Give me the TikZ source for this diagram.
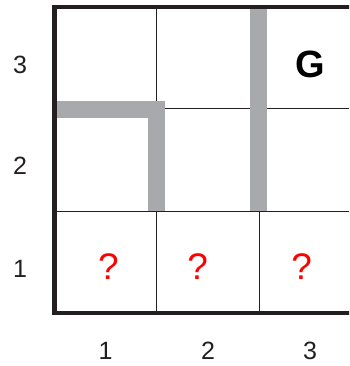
\documentclass[tikz,border=0pt]{standalone}
\usepackage{fontspec}
\setmainfont{Liberation Sans}
\definecolor{wallgray}{HTML}{A7A9AC}
\definecolor{linedark}{HTML}{231F20}
\begin{document}
\begin{tikzpicture}[x=1pt,y=1pt,
  thinline/.style={draw=linedark,line width=0.9pt},
  border/.style={draw=linedark,line width=4.5pt},
  wall/.style={fill=wallgray,draw=none},
  lbl/.style={font=\fontsize{25}{25}\selectfont,text=linedark},
  qmark/.style={font=\fontsize{37}{37}\selectfont,text=red},
  goal/.style={font=\bfseries\fontsize{38}{38}\selectfont,text=black}]
\useasboundingbox (0,0) rectangle (349,366);
\clip (0,0) rectangle (349,366);
% thin grid lines
\draw[thinline] (156.7,359) -- (156.7,53);
\draw[thinline] (259,359) -- (259,53);
\draw[thinline] (54.5,257.5) -- (370,257.5);
\draw[thinline] (54.5,155) -- (370,155);
% walls
\fill[wall] (57,265) rectangle (165,248.3);
\fill[wall] (148,265) rectangle (165,155.3);
\fill[wall] (250,359) rectangle (266.7,155.3);
% border
\draw[border] (380,359) -- (54.5,359) -- (54.5,53) -- (380,53);
% labels
\node[lbl] (r3) at (20,301) {3};
\node[lbl] (r2) at (20,200) {2};
\node[lbl] (r1) at (20,97) {1};
\node[lbl] (c1) at (105.5,15) {1};
\node[lbl] (c2) at (208,15) {2};
\node[lbl] (c3) at (310,15) {3};
\node[goal] (g) at (310,302) {G};
\node[qmark] (q1) at (108.3,99) {?};
\node[qmark] (q2) at (197.7,99) {?};
\node[qmark] (q3) at (301.7,99) {?};
\end{tikzpicture}
\end{document}
